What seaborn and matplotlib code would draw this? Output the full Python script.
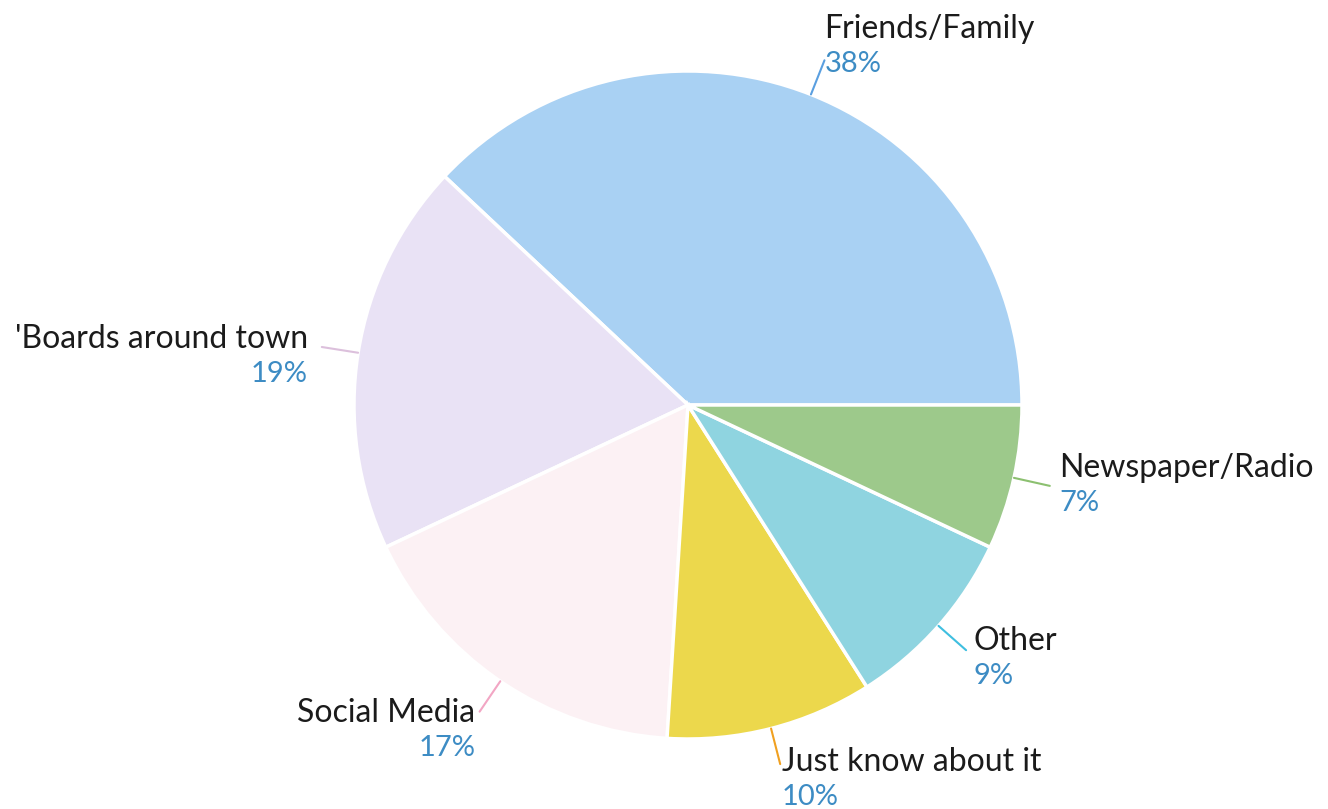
"""
Pie chart: how people hear about it.
"""

import numpy as np
import matplotlib.pyplot as plt
import seaborn as sns

# data, counter-clockwise from 3 o'clock
categories = ["Friends/Family", "'Boards around town", "Social Media",
              "Just know about it", "Other", "Newspaper/Radio"]
shares = [38, 19, 17, 10, 9, 7]
pct_labels = ["38%", "19%", "17%", "10%", "9%", "7%"]

slice_colors = ["#a9d1f3", "#e9e2f5", "#fcf1f4", "#ecd84c", "#8fd4e0", "#9dc98b"]
leader_colors = ["#5a9fe0", "#dcc0dc", "#f2a6c4", "#f0a020", "#3fbfe0", "#8cc070"]

# label side (+1 right / -1 left) and text nudge in points (dx, dy of name line)
label_side = [1, -1, -1, 1, 1, 1]
name_nudge = [(-5, 12), (-5, -5), (2, -12), (-4, -9), (0, -4), (2, 2)]

sns.set_theme(style="white")
plt.rcParams["font.family"] = ["Lato", "DejaVu Sans"]

W, H, DPI = 1328, 809, 100
cx, cy, R = 688, 405, 334

fig = plt.figure(figsize=(W / DPI, H / DPI), dpi=DPI)
ax = fig.add_axes([0, 0, 1, 1])

wedges, _ = ax.pie(
    shares,
    colors=slice_colors,
    startangle=0,
    counterclock=True,
    radius=1.0,
    wedgeprops=dict(edgecolor="white", linewidth=2.5),
)

for i, w in enumerate(wedges):
    mid = np.deg2rad((w.theta1 + w.theta2) / 2)
    x0, y0 = np.cos(mid) * 1.0, np.sin(mid) * 1.0
    x1, y1 = np.cos(mid) * 1.11, np.sin(mid) * 1.11
    ax.plot([x0, x1], [y0, y1], color=leader_colors[i], lw=1.5)

    ha = "left" if label_side[i] > 0 else "right"
    dx, dy = name_nudge[i]
    ax.annotate(categories[i], (x1, y1), xytext=(dx + 5 * label_side[i], dy),
                textcoords="offset points", ha=ha, va="bottom",
                fontsize=23, color="#1b1b1b")
    ax.annotate(pct_labels[i], (x1, y1), xytext=(dx + 5 * label_side[i], dy - 5),
                textcoords="offset points", ha=ha, va="top",
                fontsize=21, color="#3d8cc4")

ax.set_xlim(-cx / R, (W - cx) / R)
ax.set_ylim(-(H - cy) / R, cy / R)
ax.set_aspect("equal")
ax.axis("off")

fig.savefig("out.png", dpi=DPI)
